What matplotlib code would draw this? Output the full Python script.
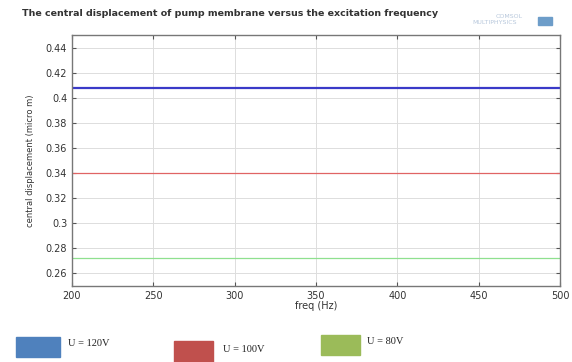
import matplotlib.pyplot as plt
from matplotlib.patches import Rectangle

freq = [200, 500]
labels = ['U = 120V', 'U = 100V', 'U = 80V']
disp = [0.408, 0.340, 0.272]
line_colors = ['#3a3ac8', '#e06464', '#8fe08f']
line_widths = [1.6, 0.9, 0.9]
patch_colors = ['#4f81bd', '#c0504d', '#9bbb59']

fig = plt.figure(figsize=(5.72, 3.62), dpi=100)
ax = fig.add_axes([72 / 572, 1 - 286 / 362, 488 / 572, 251 / 362])

for d, c, w in zip(disp, line_colors, line_widths):
    ax.plot(freq, [d, d], color=c, linewidth=w)

ax.set_xlim(200, 500)
ax.set_ylim(0.25, 0.45)
ax.set_xticks(range(200, 501, 50))
ax.set_yticks([0.26, 0.28, 0.3, 0.32, 0.34, 0.36, 0.38, 0.4, 0.42, 0.44])
ax.set_yticklabels(['0.26', '0.28', '0.3', '0.32', '0.34', '0.36', '0.38', '0.4', '0.42', '0.44'])
ax.grid(True, color='#dddddd', linewidth=0.7)
ax.tick_params(direction='in', top=True, right=True, labelsize=7, length=3,
               color='#555555', labelcolor='#333333')
for s in ax.spines.values():
    s.set_color('#777777')
    s.set_linewidth(1.0)

ax.set_xlabel('freq (Hz)', fontsize=7, color='#333333', labelpad=0)
ax.set_ylabel('central displacement (micro m)', fontsize=6,
              family=['Liberation Sans Narrow', 'DejaVu Sans'], color='#333333', labelpad=8)

fig.text(22 / 572, 1 - 13 / 362, 'The central displacement of pump membrane versus the excitation frequency',
         fontsize=6.8, weight='bold', color='#333333', va='center', ha='left')

# COMSOL logo
fig.text(509 / 572, 1 - 17 / 362, 'COMSOL', fontsize=4.5, color='#b8c8dc', ha='center', va='center')
fig.text(495 / 572, 1 - 23 / 362, 'MULTIPHYSICS', fontsize=4.5, color='#b8c8dc', ha='center', va='center')
fig.patches.append(Rectangle((538 / 572, 1 - 25 / 362), 14 / 572, 8 / 362,
                             transform=fig.transFigure, color='#6d9dc9'))

# legend boxes under the plot
boxes = [(16, 337, 44, 20), (174, 341, 39, 21), (321, 335, 39, 20)]
text_pos = [(68, 343), (223, 350), (367, 342)]
for (x, y, w, h), c, (tx, ty), lab in zip(boxes, patch_colors, text_pos, labels):
    fig.patches.append(Rectangle((x / 572, 1 - (y + h) / 362), w / 572, h / 362,
                                 transform=fig.transFigure, color=c))
    fig.text(tx / 572, 1 - ty / 362, lab, fontsize=7.5, family='Liberation Serif',
             color='#222222', va='center', ha='left')

fig.savefig('out.png', dpi=100)
